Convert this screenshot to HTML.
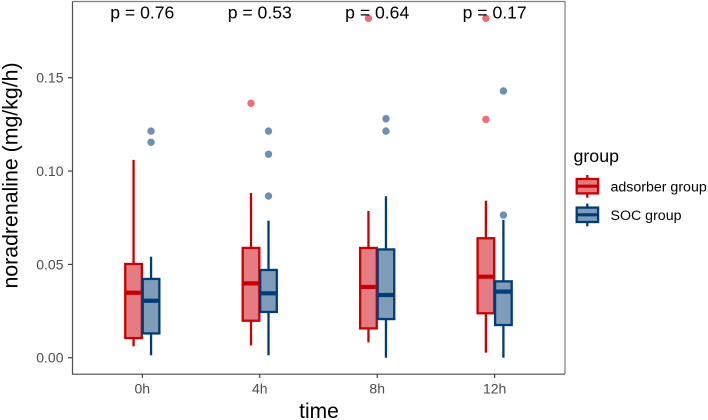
<!DOCTYPE html>
<html>
<head>
<meta charset="utf-8">
<style>
html,body{margin:0;padding:0;background:#fff;width:708px;height:420px;overflow:hidden}
svg{display:block}
text{font-family:"Liberation Sans",Arial,sans-serif}
</style>
</head>
<body>
<svg id="chart" width="708" height="420" viewBox="0 0 708 420" xmlns="http://www.w3.org/2000/svg">
<rect x="0" y="0" width="708" height="420" fill="#fff"/>
<g id="marks"></g>
<path d="M72.5 1.5H565V374" fill="none" stroke="#7f7f7f" stroke-width="1.2"/>
<path d="M72.5 1.5V374.2H565" fill="none" stroke="#4d4d4d" stroke-width="1.2"/>
<g id="axes"></g>
<text x="319" y="418" font-size="21" text-anchor="middle" fill="#000">time</text>
<text transform="translate(17.5 175.5) rotate(-90)" font-size="21.3" text-anchor="middle" fill="#000">noradrenaline (mg/kg/h)</text>
<g>
<text x="573.5" y="162" font-size="17.8" fill="#000">group</text>
<g id="legend-keys"></g>
</g>
</svg>
<script>
const timepoints = ['0h', '4h', '8h', '12h'];
const yTicks = [0, 0.05, 0.10, 0.15];
const yTickLabels = ['0.00', '0.05', '0.10', '0.15'];
const pLabels = ['p = 0.76', 'p = 0.53', 'p = 0.64', 'p = 0.17'];
const groupNames = ['adsorber group', 'SOC group'];

const adsorberLow = [0.0061, 0.0066, 0.0082, 0.0027];
const adsorberQ1 = [0.0105, 0.0198, 0.0157, 0.0238];
const adsorberMedian = [0.0348, 0.0398, 0.0379, 0.0434];
const adsorberQ3 = [0.0502, 0.0588, 0.0588, 0.0640];
const adsorberHigh = [0.1060, 0.0882, 0.0786, 0.0841];
const adsorberOutliers = [[], [0.1363], [0.1818], [0.1818, 0.1277]];

const socLow = [0.0013, 0.0013, 0.0000, 0.0000];
const socQ1 = [0.0130, 0.0245, 0.0207, 0.0175];
const socMedian = [0.0305, 0.0345, 0.0336, 0.0354];
const socQ3 = [0.0422, 0.0470, 0.0580, 0.0409];
const socHigh = [0.0541, 0.0734, 0.0865, 0.0738];
const socOutliers = [[0.1214, 0.1154], [0.1214, 0.1090, 0.0866], [0.1280, 0.1214], [0.1429, 0.0764]];

const NS = 'http://www.w3.org/2000/svg';
const yScale = v => 357.7 - v * 1866.7;
const xScale = i => 142.3 + i * 117.45;
const DODGE = 8.75;
const BOX_W = 17.4;
const RED = '#c80000';
const BLUE = '#003c78';
const RED_FILL = '#e67c83';
const BLUE_FILL = '#7f9cb9';
const RED_DOT = '#ea6f76';
const BLUE_DOT = '#6c90b4';

function make(parent, tag, attrs) {
  const el = document.createElementNS(NS, tag);
  for (const k in attrs) el.setAttribute(k, attrs[k]);
  parent.appendChild(el);
  return el;
}

const marks = document.getElementById('marks');
const axes = document.getElementById('axes');

function drawBox(i, dir, low, q1, med, q3, high, outliers, stroke, fill, dot, key) {
  const cx = xScale(i) + dir * DODGE;
  const g = make(marks, 'g', {});
  
  
  const whiskerUp = make(g, 'line', {x1: cx, x2: cx, y1: yScale(high), y2: yScale(q3), stroke: stroke, 'stroke-width': 2.3});
  
  
  const whiskerDown = make(g, 'line', {x1: cx, x2: cx, y1: yScale(q1), y2: yScale(low), stroke: stroke, 'stroke-width': 2.3});
  
  
  const box = make(g, 'rect', {x: cx - BOX_W / 2 + 0.4, y: yScale(q3), width: BOX_W - 0.8, height: yScale(q1) - yScale(q3), fill: fill, stroke: stroke, 'stroke-width': 2.3});
  
  
  const median = make(g, 'line', {x1: cx - BOX_W / 2 - 0.4, x2: cx + BOX_W / 2 + 0.4, y1: yScale(med), y2: yScale(med), stroke: stroke, 'stroke-width': 4.2});
  
  
  outliers.forEach(v => {
    const c = make(g, 'circle', {cx: cx, cy: yScale(v), r: 3.7, fill: dot});
    
    
  });
}

timepoints.forEach((t, i) => {
  drawBox(i, -1, adsorberLow[i], adsorberQ1[i], adsorberMedian[i], adsorberQ3[i], adsorberHigh[i], adsorberOutliers[i], RED, RED_FILL, RED_DOT, 'adsorber');
  drawBox(i, 1, socLow[i], socQ1[i], socMedian[i], socQ3[i], socHigh[i], socOutliers[i], BLUE, BLUE_FILL, BLUE_DOT, 'soc');

  const tick = make(axes, 'line', {x1: xScale(i), x2: xScale(i), y1: 374, y2: 378, stroke: '#333', 'stroke-width': 1.1});
  
  
  const lab = make(axes, 'text', {x: xScale(i), y: 393.3, 'font-size': 14, 'text-anchor': 'middle', fill: '#4d4d4d'});
  
  
  lab.textContent = t;
  const p = make(axes, 'text', {x: xScale(i), y: 18.5, 'font-size': 17.6, 'text-anchor': 'middle', fill: '#000'});
  
  
  p.textContent = pLabels[i];
});

yTicks.forEach((v, i) => {
  const tick = make(axes, 'line', {x1: 68, x2: 72.5, y1: yScale(v), y2: yScale(v), stroke: '#333', 'stroke-width': 1.1});
  
  
  const lab = make(axes, 'text', {x: 63.5, y: yScale(v) + 5, 'font-size': 14, 'text-anchor': 'end', fill: '#4d4d4d'});
  
  
  lab.textContent = yTickLabels[i];
});

const legendKeys = document.getElementById('legend-keys');
groupNames.forEach((name, i) => {
  const top = 179 + i * 28.6;
  const stroke = i === 0 ? RED : BLUE;
  const fill = i === 0 ? RED_FILL : BLUE_FILL;
  const g = make(legendKeys, 'g', {});
  
  
  const w = make(g, 'line', {x1: 587.3, x2: 587.3, y1: top - 4, y2: top + 18.7, stroke: stroke, 'stroke-width': 2.3});
  
  
  const b = make(g, 'rect', {x: 576.7, y: top, width: 21.4, height: 14.4, fill: fill, stroke: stroke, 'stroke-width': 2.3});
  
  
  const m = make(g, 'line', {x1: 576, x2: 598.6, y1: top + 7.2, y2: top + 7.2, stroke: stroke, 'stroke-width': 3.2});
  
  
  const t = make(g, 'text', {x: 610.5, y: top + 12.6, 'font-size': 14.2, fill: '#000'});
  
  
  t.textContent = name;
});
</script>
</body>
</html>
